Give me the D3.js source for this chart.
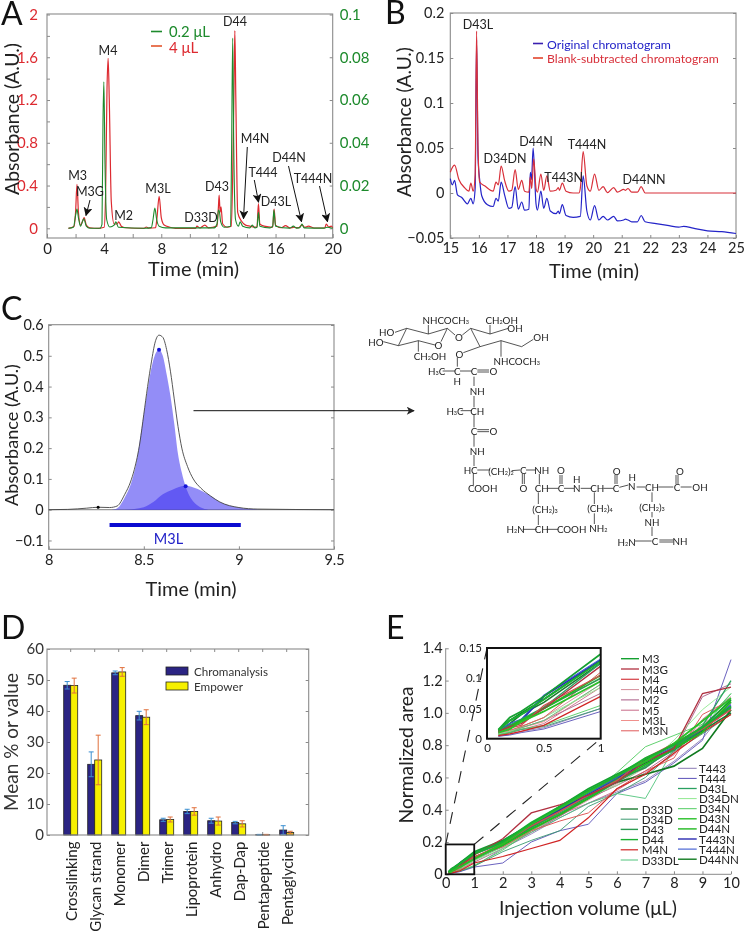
<!DOCTYPE html>
<html><head><meta charset="utf-8">
<script src="https://cdn.jsdelivr.net/npm/d3@7"></script>
<style>
html,body{margin:0;padding:0;background:#fff}
svg{display:block;filter:blur(0.3px)}
text{font-family:Lato,"Open Sans",sans-serif;fill:#222}
</style></head><body>
<script>
// ---------- DATA ----------
// Panel A: [time, absorbance]
const a4uL = [[1.5,0],[1.9,.02],[2,.15],[2.1,.41],[2.2,.15],[2.35,.03],[2.5,.07],[2.6,.1],[2.75,.03],[3,.005],[3.6,0],[4,.01],[4.1,.3],[4.2,1.3],[4.28,1.59],[4.36,1.2],[4.5,.25],[4.7,.04],[4.9,.04],[5.02,.06],[5.2,.02],[5.5,.005],[6.8,0],[6.95,.012],[7.1,.002],[7.6,.005],[7.7,.1],[7.85,.3],[8,.1],[8.2,.03],[8.6,.01],[9,0],[10.4,0],[10.5,.02],[10.7,.003],[11.05,.03],[11.3,.004],[11.9,.02],[12,.2],[12.05,.31],[12.12,.15],[12.18,.2],[12.3,.04],[12.6,.01],[12.9,.02],[13,.5],[13.1,1.4],[13.15,1.85],[13.22,1.2],[13.35,.15],[13.6,.07],[13.9,.03],[14.2,.02],[14.7,.01],[14.8,.23],[14.9,.04],[15.2,.02],[15.8,.01],[15.9,.18],[16,.03],[16.4,.005],[16.7,.025],[17,.004],[17.3,.01],[17.6,.004],[17.85,.03],[18.05,.01],[18.3,.02],[18.7,.003],[19.45,.004],[19.55,.04],[19.72,.012],[19.9,.02],[20,.005]];
const a02uL = [[1.5,0],[1.85,.0005],[2,.006],[2.1,.009],[2.2,.005],[2.35,.001],[2.5,.0035],[2.58,.0045],[2.75,.001],[3,0],[3.7,0],[3.85,.002],[3.92,.05],[3.98,.0685],[4.06,.03],[4.18,.004],[4.4,.0006],[4.7,.0015],[4.82,.003],[5,.0005],[6.8,0],[7.3,.0003],[7.42,.004],[7.55,.0095],[7.68,.004],[7.85,.001],[8.3,.0002],[11.7,.0002],[11.9,.002],[12,.0085],[12.06,.008],[12.16,.003],[12.4,.0005],[12.85,.001],[12.92,.035],[13,.089],[13.07,.04],[13.2,.004],[13.4,.001],[13.52,.003],[13.7,.001],[14.2,.0002],[14.37,.0015],[14.55,.0002],[14.7,.0005],[14.8,.0075],[14.9,.001],[15.6,.0002],[15.8,.001],[15.88,.0085],[16,.001],[17,.0001],[17.25,.001],[17.45,.0001],[17.7,.0003],[17.85,.002],[18,.0002],[19.4,.0001],[19.6,.0005],[20,0]];

// Panel B
const bBlank = [[15,.023],[15.05,.027],[15.15,.031],[15.3,.015],[15.5,.006],[15.65,.002],[15.72,.011],[15.8,.002],[15.87,.02],[15.92,.18],[15.97,.05],[16.03,.012],[16.2,.008],[16.5,.002],[16.6,.012],[16.68,.009],[16.78,.03],[16.9,.014],[17.05,.002],[17.15,.003],[17.27,.026],[17.38,.004],[17.5,.014],[17.6,.002],[17.75,.001],[17.8,.018],[17.85,.005],[17.92,.038],[18,.005],[18.05,.001],[18.17,.021],[18.27,.003],[18.38,.019],[18.5,.002],[18.7,.003],[18.78,.006],[18.82,.003],[18.92,.011],[19.05,.002],[19.3,0],[19.5,0],[19.55,.005],[19.65,.046],[19.78,.008],[19.9,.002],[20.05,.021],[20.2,.003],[20.35,.007],[20.5,.0005],[20.72,.006],[20.85,.001],[21.07,.004],[21.13,.003],[21.22,.005],[21.35,.001],[21.55,.001],[21.68,.007],[21.82,0],[25,0]];
const bOriginal = [[15,.016],[15.07,.009],[15.15,.014],[15.25,-.002],[15.4,-.005],[15.6,-.012],[15.72,-.006],[15.8,-.012],[15.87,.005],[15.92,.17],[15.97,.04],[16.03,.014],[16.1,-.003],[16.3,-.013],[16.5,-.015],[16.6,-.006],[16.68,-.009],[16.78,.012],[16.9,-.002],[17.05,-.017],[17.15,-.016],[17.27,.007],[17.38,-.018],[17.5,-.01],[17.6,-.019],[17.75,-.018],[17.8,.023],[17.84,.015],[17.9,.05],[18,-.012],[18.05,-.019],[18.17,.002],[18.27,-.017],[18.38,-.006],[18.5,-.02],[18.7,-.023],[18.78,-.02],[18.82,-.023],[18.92,-.013],[19.05,-.025],[19.3,-.027],[19.55,-.026],[19.65,.019],[19.78,-.02],[19.9,-.03],[20.05,-.014],[20.2,-.03],[20.35,-.026],[20.5,-.03],[20.72,-.026],[20.85,-.031],[21.07,-.03],[21.13,-.029],[21.22,-.03],[21.35,-.032],[21.55,-.032],[21.68,-.025],[21.82,-.032],[22.2,-.034],[22.6,-.036],[23,-.038],[23.17,-.037],[23.5,-.039],[24,-.042],[24.5,-.043],[25,-.045]];

// Panel C
const cOutline = [[8,0],[8.1,.001],[8.2,.005],[8.26,.008],[8.32,.007],[8.36,.012],[8.4,.05],[8.43,.09],[8.45,.13],[8.48,.22],[8.5,.31],[8.52,.4],[8.54,.48],[8.56,.545],[8.58,.567],[8.6,.56],[8.62,.52],[8.64,.45],[8.66,.36],[8.68,.27],[8.7,.2],[8.73,.14],[8.76,.1],[8.8,.07],[8.85,.045],[8.9,.025],[9,.007],[9.1,.002],[9.5,0]];
const cPeak1 = [[8.33,0],[8.36,.005],[8.4,.04],[8.43,.08],[8.46,.15],[8.49,.27],[8.52,.39],[8.54,.46],[8.56,.505],[8.58,.52],[8.6,.5],[8.62,.44],[8.64,.37],[8.66,.28],[8.68,.18],[8.7,.12],[8.72,.075],[8.74,.045],[8.77,.02],[8.8,.007],[8.84,0]];
const cPeak2 = [[8.4,0],[8.5,.008],[8.55,.025],[8.6,.05],[8.65,.065],[8.72,.078],[8.78,.068],[8.85,.045],[8.9,.025],[9,.007],[9.1,.001],[9.15,0]];
const cMarksBlue = [[8.58,.52],[8.72,.076]];
const cMarkBlack = [[8.26,.008]];
const cRange = [8.32,9.01];

// Panel D
const dCategories = ["Crosslinking","Glycan strand","Monomer","Dimer","Trimer","Lipoprotein","Anhydro","Dap-Dap","Pentapeptide","Pentaglycine"];
const dChrom = [48.3,22.8,52.3,38.5,4.9,7.6,4.6,4,.1,1.6];
const dEmp = [48.2,24.2,52.6,38,5,7.6,4.5,3.6,.1,.8];
const dChromErr = [1.2,4,.6,1.4,.5,.7,.8,.4,.1,1.4];
const dEmpErr = [2.4,8,1.4,2.4,.8,1.2,1.3,1,.1,.4];

// Panel E
const eVolumes = [.1,.2,.3,.5,1,2,3,4,5,6,7,8,9,10];
const eM3 = [.015,.035,.045,.07,.14,.21,.31,.42,.53,.62,.71,.81,.91,1.08];
const eM3G = [.012,.02,.025,.05,.12,.22,.38,.43,.49,.57,.7,.78,1.12,1.16];
const eM4 = [.01,.018,.022,.055,.105,.19,.3,.39,.49,.58,.72,.81,.9,1.02];
const eM4G = [.008,.012,.02,.035,.095,.17,.27,.36,.46,.56,.66,.78,.93,1.05];
const eM2 = [.006,.01,.018,.03,.075,.16,.26,.36,.47,.55,.64,.76,1.1,1.18];
const eM5 = [.005,.01,.015,.025,.085,.18,.28,.37,.44,.52,.63,.74,.96,1.1];
const eM3L = [.008,.012,.018,.028,.09,.18,.29,.38,.48,.59,.68,.8,.92,1.06];
const eM3N = [.01,.014,.02,.035,.11,.17,.27,.33,.38,.53,.64,.72,.99,1.08];
const eD33D = [.012,.025,.04,.06,.125,.2,.3,.41,.5,.6,.69,.77,.89,1];
const eD34D = [.008,.01,.015,.02,.05,.14,.21,.27,.42,.5,.6,.76,.87,.99];
const eD43 = [.01,.018,.03,.05,.1,.18,.29,.39,.48,.59,.66,.79,.9,1.03];
const eD44 = [.014,.03,.04,.065,.128,.2,.32,.42,.52,.61,.72,.8,.91,1.04];
const eM4N = [.005,.008,.012,.022,.07,.11,.16,.21,.35,.53,.62,.75,.88,.99];
const eD33DL = [.007,.012,.018,.03,.09,.17,.26,.35,.44,.5,.47,.78,.9,1.12];
const eT443 = [.004,.007,.012,.018,.05,.16,.25,.35,.44,.51,.58,.7,.84,1.06];
const eT444 = [.004,.006,.01,.016,.045,.07,.2,.27,.31,.5,.57,.69,.83,1.33];
const eD43L = [.012,.022,.032,.052,.125,.19,.29,.38,.47,.57,.67,.77,.92,1.2];
const eD34DN = [.008,.012,.02,.035,.085,.16,.27,.38,.48,.55,.67,.83,1.02,1.16];
const eD34N = [.006,.01,.016,.022,.055,.15,.27,.37,.49,.63,.79,.86,.93,1.12];
const eD43N = [.01,.016,.028,.045,.095,.19,.31,.41,.51,.61,.7,.81,.95,1.09];
const eD44N = [.012,.02,.03,.05,.105,.18,.28,.37,.47,.58,.68,.78,.88,1.07];
const eT443N = [.012,.022,.03,.07,.13,.2,.3,.4,.49,.59,.7,.78,.9,1.04];
const eT444N = [.013,.025,.032,.072,.132,.21,.31,.41,.5,.6,.71,.79,.91,1.05];
const eD44NN = [.014,.03,.042,.065,.13,.2,.3,.4,.5,.57,.62,.67,.78,1.02];
const eLegend1 = ["M3","M3G","M4","M4G","M2","M5","M3L","M3N"];
const eLegend2 = ["D33D","D34D","D43","D44","M4N","D33DL"];
const eLegend3 = ["T443","T444","D43L","D34DN","D34N","D43N","D44N","T443N","T444N","D44NN"];

// ---------- DRAWING ----------
const W=745,H=933, GREY="#8a8a8a", TXT="#222";
const svg=d3.select("body").append("svg").attr("width",W).attr("height",H).attr("viewBox",`0 0 ${W} ${H}`);
svg.append("defs").append("marker").attr("id","ah").attr("viewBox","0 0 10 10").attr("refX",9).attr("refY",5)
  .attr("markerWidth",9).attr("markerHeight",9).attr("markerUnits","userSpaceOnUse").attr("orient","auto")
  .append("path").attr("d","M0,0L10,5L0,10L2.5,5Z").attr("fill","#111");
svg.append("marker").attr("id","ah2").attr("viewBox","0 0 10 10").attr("refX",9).attr("refY",5)
  .attr("markerWidth",10).attr("markerHeight",8).attr("markerUnits","userSpaceOnUse").attr("orient","auto")
  .append("path").attr("d","M0,0L10,5L0,10L2.5,5Z").attr("fill","#222");

function txt(x,y,s,o={}){
  const t=svg.append("text").attr("x",x).attr("y",y).text(s)
    .attr("text-anchor",o.anchor||"middle").attr("dominant-baseline","central")
    .attr("font-size",o.size||12).style("fill",o.fill||TXT);
  if(o.rotate) t.attr("transform",`rotate(${o.rotate} ${x} ${y})`);
  if(o.fit){const w=t.node().getComputedTextLength(); t.attr("font-size",(o.size||12)*o.fit/w);}
  return t;
}
function styleAxis(g,color,fs){
  g.select(".domain").remove();
  g.selectAll(".tick line").attr("stroke",GREY);
  g.selectAll(".tick text").filter(function(){return !this.textContent;}).remove();
  g.selectAll(".tick text").attr("font-size",fs).style("fill",color||TXT).attr("font-family","Lato,sans-serif");
}
function frame(l,t,r,b){
  svg.append("rect").attr("x",l).attr("y",t).attr("width",r-l).attr("height",b-t)
    .attr("fill","none").attr("stroke",GREY).attr("stroke-width",1.1);
}
const line=(x,y)=>d3.line().curve(d3.curveMonotoneX).x(d=>x(d[0])).y(d=>y(d[1]));
const area=(x,y)=>d3.area().curve(d3.curveMonotoneX).x(d=>x(d[0])).y0(y(0)).y1(d=>y(d[1]));
const poly=(x,y)=>d3.line().x(d=>x(d[0])).y(d=>y(d[1]));
function letter(s,x,y){svg.append("text").attr("x",x).attr("y",y).text(s).attr("font-size",32).style("fill","#111");}
function arrow(x1,y1,x2,y2,mk="ah",w=1){
  svg.append("line").attr("x1",x1).attr("y1",y1).attr("x2",x2).attr("y2",y2)
    .attr("stroke","#111").attr("stroke-width",w).attr("marker-end",`url(#${mk})`);
}

// ---- A ----
(function(){
  const L=47,R=332.7,T=14,B=238,Z=228.3,TOP=14.5;
  const x=d3.scaleLinear([0,20],[L,R]);
  const yR=d3.scaleLinear([0,2],[Z,TOP]);
  const yG=d3.scaleLinear([0,.1],[Z,TOP]);
  const RED="#dd2a30",GR="#1d8a2c";
  const fx=d3.format("d"), fy=d3.format("~g");
  svg.append("g").attr("transform",`translate(0,${B})`).call(d3.axisBottom(x).tickValues(d3.range(0,21,2)).tickSizeInner(-4).tickSizeOuter(0).tickPadding(5).tickFormat(d=>d%4===0?fx(d):""))
    .call(g=>styleAxis(g,TXT,15));
  svg.append("g").attr("transform",`translate(${L},0)`).call(d3.axisLeft(yR).tickValues([0,.2,.4,.6,.8,1,1.2,1.4,1.6,1.8,2]).tickSizeInner(-3).tickSizeOuter(0).tickPadding(9).tickFormat(d=>Math.round(d*10)%4===0?fy(d):""))
    .call(g=>styleAxis(g,RED,15));
  svg.append("g").attr("transform",`translate(${R},0)`).call(d3.axisRight(yG).tickValues([0,.02,.04,.06,.08,.1]).tickSizeInner(-3).tickSizeOuter(0).tickPadding(7).tickFormat(fy))
    .call(g=>styleAxis(g,GR,15));
  frame(L,T,R,B);
  svg.append("path").attr("d",line(x,yR)(a4uL)).attr("fill","none").attr("stroke",RED).attr("stroke-width",1.2);
  svg.append("path").attr("d",line(x,yG)(a02uL)).attr("fill","none").attr("stroke",GR).attr("stroke-width",1.1);
  svg.append("line").attr("x1",151).attr("x2",162).attr("y1",31.5).attr("y2",31.5).attr("stroke",GR).attr("stroke-width",1.6);
  svg.append("line").attr("x1",151).attr("x2",162).attr("y1",46).attr("y2",46).attr("stroke","#e2552b").attr("stroke-width",1.6);
  txt(169,31,"0.2 μL",{anchor:"start",size:15,fill:GR,fit:41});
  txt(169,46.5,"4 μL",{anchor:"start",size:15,fill:RED});
  [["M3",77.7,175.7],["M3G",90,191],["M4",108,50],["M2",123.7,215],["M3L",158,188],["D33D",201,217],["D43",217,186.7],["D44",235,21.7],["M4N",255,138],["T444",263,172.7],["D43L",276,201.7],["D44N",289,157.7],["T444N",313,178]]
    .forEach(d=>txt(d[1],d[2],d[0],{size:12.5}));
  arrow(90,200,86,215.5);arrow(247.3,147,243.5,218.5);arrow(254.3,180,258.5,202);arrow(288.5,166,301.5,221.5);arrow(319.5,186,327.5,221.5);
  txt(11,119,"Absorbance (A.U.)",{rotate:-90,size:18,fit:152});
  txt(193.5,268,"Time (min)",{size:18,fit:91});
  letter("A",1,25);
})();

// ---- B ----
(function(){
  const L=450.3,R=736,T=13,B=238;
  const x=d3.scaleLinear([15,25],[L,R]);
  const y=d3.scaleLinear([-.05,.2],[B,T]);
  const BL="#2424c8",RD="#d8303a";
  svg.append("g").attr("transform",`translate(0,${B})`).call(d3.axisBottom(x).tickValues(d3.range(15,26)).tickSizeInner(-3).tickSizeOuter(0).tickPadding(5).tickFormat(d3.format("d"))).call(g=>styleAxis(g,TXT,14.5));
  const yt=[-.05,0,.05,.1,.15,.2];
  svg.append("g").attr("transform",`translate(${L},0)`).call(d3.axisLeft(y).tickValues(yt).tickSizeInner(-3).tickSizeOuter(0).tickPadding(6).tickFormat(d3.format("~g"))).call(g=>styleAxis(g,TXT,14.5));
  svg.append("g").attr("transform",`translate(${R},0)`).call(d3.axisRight(y).tickValues(yt).tickSizeInner(-3).tickSizeOuter(0).tickFormat("")).call(g=>styleAxis(g));
  frame(L,T,R,B);
  svg.append("path").attr("d",line(x,y)(bOriginal)).attr("fill","none").attr("stroke",BL).attr("stroke-width",1.2);
  svg.append("path").attr("d",line(x,y)(bBlank)).attr("fill","none").attr("stroke",RD).attr("stroke-width",1.2);
  [["D43L",478,24],["D34DN",505,158.7],["D44N",536,141],["T444N",587,144.7],["T443N",563.7,177],["D44NN",644,179.7]].forEach(d=>txt(d[1],d[2],d[0],{size:12.5}));
  svg.append("line").attr("x1",533).attr("x2",543).attr("y1",43.5).attr("y2",43.5).attr("stroke","#3a1fb0").attr("stroke-width",1.6);
  svg.append("line").attr("x1",533).attr("x2",543).attr("y1",58).attr("y2",58).attr("stroke","#e2452b").attr("stroke-width",1.6);
  txt(547,44,"Original chromatogram",{anchor:"start",size:11,fill:BL,fit:124});
  txt(547,58.3,"Blank-subtracted chromatogram",{anchor:"start",size:11,fill:RD,fit:172});
  txt(403,122,"Absorbance (A.U.)",{rotate:-90,size:18,fit:150});
  txt(594,270,"Time (min)",{size:18,fit:90});
  letter("B",385,24);
})();

// ---- C ----
(function(){
  const L=48.7,R=334,T=324.7,B=549.3;
  const x=d3.scaleLinear([8,9.5],[L,R]);
  const y=d3.scaleLinear([0,.6],[509.7,325]);
  svg.append("g").attr("transform",`translate(0,${B})`).call(d3.axisBottom(x).tickValues([8,8.5,9,9.5]).tickSizeInner(-3).tickSizeOuter(0).tickPadding(5).tickFormat(d3.format("~g"))).call(g=>styleAxis(g,TXT,14.5));
  const yt=[-.1,0,.1,.2,.3,.4,.5,.6];
  svg.append("g").attr("transform",`translate(${L},0)`).call(d3.axisLeft(y).tickValues(yt).tickSizeInner(-3).tickSizeOuter(0).tickPadding(5).tickFormat(d3.format("~g"))).call(g=>styleAxis(g,TXT,14.5));
  svg.append("g").attr("transform",`translate(${R},0)`).call(d3.axisRight(y).tickValues(yt).tickSizeInner(-3).tickSizeOuter(0).tickFormat("")).call(g=>styleAxis(g));
  frame(L,T,R,B);
  svg.append("line").attr("x1",L).attr("x2",R).attr("y1",y(0)).attr("y2",y(0)).attr("stroke","#999").attr("stroke-width",1.2);
  svg.append("path").attr("d",area(x,y)(cPeak1)).attr("fill","#3a30f0").attr("fill-opacity",.55);
  svg.append("path").attr("d",area(x,y)(cPeak2)).attr("fill","#3a30f0").attr("fill-opacity",.55);
  svg.append("path").attr("d",line(x,y)(cOutline)).attr("fill","none").attr("stroke","#444").attr("stroke-width",.9);
  svg.selectAll(".mb").data(cMarksBlue).join("circle").attr("cx",d=>x(d[0])).attr("cy",d=>y(d[1])).attr("r",2).attr("fill","#1414d8");
  svg.selectAll(".mk").data(cMarkBlack).join("circle").attr("cx",d=>x(d[0])).attr("cy",d=>y(d[1])).attr("r",1.5).attr("fill","#000");
  svg.append("line").attr("x1",x(cRange[0])).attr("x2",x(cRange[1])).attr("y1",y(-.05)).attr("y2",y(-.05)).attr("stroke","#0a0ad0").attr("stroke-width",4);
  txt(168.5,538,"M3L",{size:14.5,fill:"#2222c8"});
  arrow(193.5,410.7,414,410.7,"ah2",1);
  txt(11,435,"Absorbance (A.U.)",{rotate:-90,size:18,fit:142});
  txt(191,588,"Time (min)",{size:18,fit:91});
  letter("C",1,320);
})();

// ---- Structure ----
(function(){
  const sx=d3.scaleLinear([0,900],[340,640]), sy=d3.scaleLinear([0,840],[300,580]);
  const labels=[["NHCOCH_3",317,60],["CH_2OH",485,60],["OH",525,85],["HO",140,97],["O",357,112],["O",295,135],["OH",603,110],["HO",108,125],["CH_2OH",270,168],["O",358,163],["NHCOCH_3",530,183],["H_3C",290,213],["C",352,213],["C",402,213],["O",460,213],["H",352,243],["NH",412,272],["H_3C",345,332],["CH",412,332],["C",402,392],["O",460,392],["NH",412,452],["HC",392,510],["(CH_2)_2",483,513],["C",550,510],["NH",605,510],["O",663,510],["O",830,513],["H",710,537],["H",877,530],["COOH",428,565],["O",550,565],["CH",605,565],["C",663,565],["N",710,565],["CH",772,565],["C",828,565],["N",875,557],["(CH_2)_3",615,627],["(CH_2)_4",780,625],["H_2N",527,688],["CH",605,688],["COOH",695,688],["NH_2",775,685],["H_2N",860,725],["CH",936,561],["C",1011,561],["OH",1080,561],["O",1020,513],["(CH_2)_3",936,621],["NH",936,666],["C",945,723],["NH",1020,723]];
  const bonds=[[165,97,200,85],[200,85,265,102],[265,102,322,85],[322,85,303,125],[285,135,235,122],[235,122,175,137],[175,137,200,85],[130,125,175,137],[265,102,265,75],[235,122,235,155],[322,85,345,105],[367,105,392,85],[392,85,450,102],[450,102,450,75],[450,102,505,85],[392,85,420,140],[420,140,483,122],[483,122,545,140],[545,140,580,118],[483,122,483,170],[420,140,370,158],[352,172,352,200],[308,213,345,213],[360,213,395,213],[412,210,447,210],[412,216,447,216],[402,230,402,258],[402,288,402,322],[362,332,395,332],[402,342,402,382],[412,389,447,389],[412,395,447,395],[402,402,402,440],[402,465,402,498],[412,510,450,510],[515,512,540,510],[558,510,588,510],[547,522,547,552],[553,522,553,552],[400,520,400,555],[598,522,598,553],[622,565,655,565],[672,565,702,565],[722,565,755,565],[790,565,820,565],[660,525,660,552],[666,525,666,552],[825,525,825,552],[831,525,831,552],[838,562,865,555],[595,577,595,612],[595,645,595,675],[548,688,590,688],[620,688,655,688],[763,577,763,612],[763,640,763,672],[890,561,915,561],[955,561,1000,561],[1022,561,1055,561],[1008,525,1008,552],[1014,525,1014,552],[936,577,936,606],[936,636,936,652],[936,680,936,708],[885,723,935,723],[958,720,1000,720],[958,726,1000,726]];
  svg.selectAll(".bond").data(bonds).join("line").attr("x1",d=>sx(d[0])).attr("y1",d=>sy(d[1])).attr("x2",d=>sx(d[2])).attr("y2",d=>sy(d[3])).attr("stroke","#2a2a2a").attr("stroke-width",.8);
  labels.forEach(d=>{
    const t=svg.append("text").attr("x",sx(d[1])).attr("y",sy(d[2])).attr("text-anchor","middle").attr("dominant-baseline","central").attr("font-size",9.8).style("fill","#222");
    let after=false;
    d[0].split(/(_\d)/).filter(Boolean).forEach(p=>{
      if(p[0]==="_"){t.append("tspan").attr("font-size",5.5).attr("dy",2).text(p[1]);after=true;}
      else {const s=t.append("tspan").text(p); if(after){s.attr("dy",-2);after=false;}}
    });
  });
})();

// ---- D ----
(function(){
  const L=47,R=308.7,T=649,B=835;
  const x=d3.scaleBand().domain(dCategories).range([58.7,298.7]);
  const y=d3.scaleLinear([0,60],[B,T]);
  const yt=d3.range(0,61,10);
  svg.append("g").attr("transform",`translate(0,${B})`).call(d3.axisBottom(x).tickSizeInner(-3).tickSizeOuter(0).tickFormat("")).call(g=>styleAxis(g));
  svg.append("g").attr("transform",`translate(0,${T})`).call(d3.axisTop(x).tickSizeInner(-3).tickSizeOuter(0).tickFormat("")).call(g=>styleAxis(g));
  svg.append("g").attr("transform",`translate(${L},0)`).call(d3.axisLeft(y).tickValues(yt).tickSizeInner(-3).tickSizeOuter(0).tickPadding(3).tickFormat(d3.format("d"))).call(g=>styleAxis(g,"#333",15));
  svg.append("g").attr("transform",`translate(${R},0)`).call(d3.axisRight(y).tickValues(yt).tickSizeInner(-3).tickSizeOuter(0).tickFormat("")).call(g=>styleAxis(g));
  const bw=7;
  const c=d=>x(d)+x.bandwidth()/2;
  const sets=[{v:dChrom,e:dChromErr,fill:"#2b2483",err:"#3b8fd0",off:-bw},{v:dEmp,e:dEmpErr,fill:"#f6f000",err:"#e0703c",off:0}];
  sets.forEach(s=>{
    dCategories.forEach((cat,i)=>{
      svg.append("rect").attr("x",c(cat)+s.off).attr("y",y(s.v[i])).attr("width",bw).attr("height",y(0)-y(s.v[i]))
        .attr("fill",s.fill).attr("stroke","#222").attr("stroke-width",.8);
    });
  });
  sets.forEach(s=>{
    dCategories.forEach((cat,i)=>{
      const cx=c(cat)+s.off+bw/2, hi=y(s.v[i]+s.e[i]), lo=y(Math.max(0,s.v[i]-s.e[i]));
      const g=svg.append("g").attr("stroke",s.err).attr("stroke-width",1);
      g.append("line").attr("x1",cx).attr("x2",cx).attr("y1",hi).attr("y2",lo);
      g.append("line").attr("x1",cx-2.5).attr("x2",cx+2.5).attr("y1",hi).attr("y2",hi);
      g.append("line").attr("x1",cx-2.5).attr("x2",cx+2.5).attr("y1",lo).attr("y2",lo);
    });
  });
  frame(L,T,R,B);
  dCategories.forEach(cat=>txt(c(cat),841.5,cat,{anchor:"end",size:15,fill:"#222"}).attr("transform",`rotate(-90 ${c(cat)} 841.5)`));
  [["Chromanalysis","#2b2483",671,74],["Empower","#f6f000",686,49]].forEach(d=>{
    svg.append("rect").attr("x",166).attr("y",d[2]-4).attr("width",22).attr("height",8).attr("fill",d[1]).attr("stroke","#222").attr("stroke-width",.8);
    txt(194,d[2],d[0],{anchor:"start",size:12,fill:"#333",fit:d[3]});
  });
  txt(10.5,742,"Mean % or value",{rotate:-90,size:18,fill:"#333",fit:138});
  letter("D",1,639);
})();

// ---- E ----
(function(){
  const x=d3.scaleLinear([0,10],[445.7,731]);
  const y=d3.scaleLinear([0,1.4],[874.3,648.3]);
  const ix=d3.scaleLinear([0,1],[487,600.7]);
  const iy=d3.scaleLinear([0,.15],[738.7,648]);
  const series=[
    ["M4G",eM4G,"#d48a98",.9],["M2",eM2,"#a85a84",.9],["M5",eM5,"#c86a88",.9],["M3L",eM3L,"#f0908c",.9],
    ["T443",eT443,"#8a7ab4",.9],["T444",eT444,"#5a50b8",.9],["D34D",eD34D,"#3a9a70",.9],["D33DL",eD33DL,"#50c47c",.9],["D34DN",eD34DN,"#90e890",.9],["D34N",eD34N,"#50cc60",.9],
    ["D33D",eD33D,"#1a7a30",1.6],["D44NN",eD44NN,"#107a20",1.7],["M3N",eM3N,"#e05a5a",1],["M4N",eM4N,"#d02424",1.2],["T443N",eT443N,"#2a2ab0",1.7],["T444N",eT444N,"#3a58d0",1.1],
    ["D43L",eD43L,"#2aa060",1.3],["D43",eD43,"#2a9a50",1.5],["M3",eM3,"#14a030",1.7],["D44N",eD44N,"#20b820",1.9],["M4",eM4,"#d84a50",1.3],["M3G",eM3G,"#b03040",1.3],["D43N",eD43N,"#28c028",1.9],["D44",eD44,"#18b030",1.9]
  ];
  const color=Object.fromEntries(series.map(s=>[s[0],s[2]]));
  const width=Object.fromEntries(series.map(s=>[s[0],s[3]]));
  const pts=v=>eVolumes.map((q,i)=>[q,v[i]]);

  svg.append("g").attr("transform","translate(0,874.3)").call(d3.axisBottom(x).tickValues(d3.range(0,11)).tickSizeInner(-3).tickSizeOuter(0).tickPadding(3).tickFormat(d3.format("d"))).call(g=>styleAxis(g,TXT,14.5));
  const yt=[0,.2,.4,.6,.8,1,1.2,1.4];
  svg.append("g").attr("transform","translate(445.7,0)").call(d3.axisLeft(y).tickValues(yt).tickSizeInner(-3).tickSizeOuter(0).tickPadding(3).tickFormat(d=>d===0?"0":d3.format(".1f")(d))).call(g=>styleAxis(g,TXT,14.5));
  svg.append("line").attr("x1",445.7).attr("x2",731).attr("y1",874.3).attr("y2",874.3).attr("stroke",GREY);
  svg.append("line").attr("x1",445.7).attr("x2",445.7).attr("y1",648.3).attr("y2",874.3).attr("stroke",GREY);

  const dash=(a,b,c,d)=>svg.append("line").attr("x1",a).attr("y1",b).attr("x2",c).attr("y2",d).attr("stroke","#222").attr("stroke-width",1.1).attr("stroke-dasharray","12 9");
  dash(x(0),y(.185),ix(0),iy(.15));
  dash(x(1),y(.185),ix(1),iy(0));

  series.forEach(s=>svg.append("path").attr("d",poly(x,y)(pts(s[1]))).attr("fill","none").attr("stroke",s[2]).attr("stroke-width",s[3]));

  svg.append("rect").attr("x",x(0)).attr("y",y(.185)).attr("width",x(1)-x(0)).attr("height",y(0)-y(.185)).attr("fill","none").attr("stroke","#111").attr("stroke-width",1.8);

  svg.append("rect").attr("x",ix(0)).attr("y",iy(.15)).attr("width",ix(1)-ix(0)).attr("height",iy(0)-iy(.15)).attr("fill","#fff");
  series.forEach(s=>svg.append("path").attr("d",poly(ix,iy)(pts(s[1]).filter(d=>d[0]<=1))).attr("fill","none").attr("stroke",s[2]).attr("stroke-width",s[3]));
  svg.append("rect").attr("x",ix(0)).attr("y",iy(.15)).attr("width",ix(1)-ix(0)).attr("height",iy(0)-iy(.15)).attr("fill","none").attr("stroke","#111").attr("stroke-width",2);
  svg.append("g").attr("transform",`translate(0,${iy(0)})`).call(d3.axisBottom(ix).tickValues([0,.5,1]).tickSize(0).tickPadding(5).tickFormat(d3.format("~g"))).call(g=>styleAxis(g,TXT,11.5));
  svg.append("g").attr("transform",`translate(${ix(0)},0)`).call(d3.axisLeft(iy).tickValues([0,.05,.1,.15]).tickSize(0).tickPadding(5).tickFormat(d3.format("~g"))).call(g=>styleAxis(g,TXT,11.5));

  const leg=(names,lx0,lx1,tx,y0,dy)=>names.forEach((n,i)=>{
    svg.append("line").attr("x1",lx0).attr("x2",lx1).attr("y1",y0+i*dy).attr("y2",y0+i*dy).attr("stroke",color[n]).attr("stroke-width",Math.min(1.4,Math.max(1,width[n])));
    txt(tx,y0+i*dy,n,{anchor:"start",size:11.6,fill:"#222"});
  });
  leg(eLegend1,621,639,642,658.7,10.3);
  leg(eLegend2,620.7,638,641.7,809,10.2);
  leg(eLegend3,678,696.7,699,768.3,10.1);

  txt(405,755,"Normalized area",{rotate:-90,size:18,fit:137});
  txt(588,907.5,"Injection volume (μL)",{size:18,fit:178});
  letter("E",386,639);
})();
</script>
</body></html>
